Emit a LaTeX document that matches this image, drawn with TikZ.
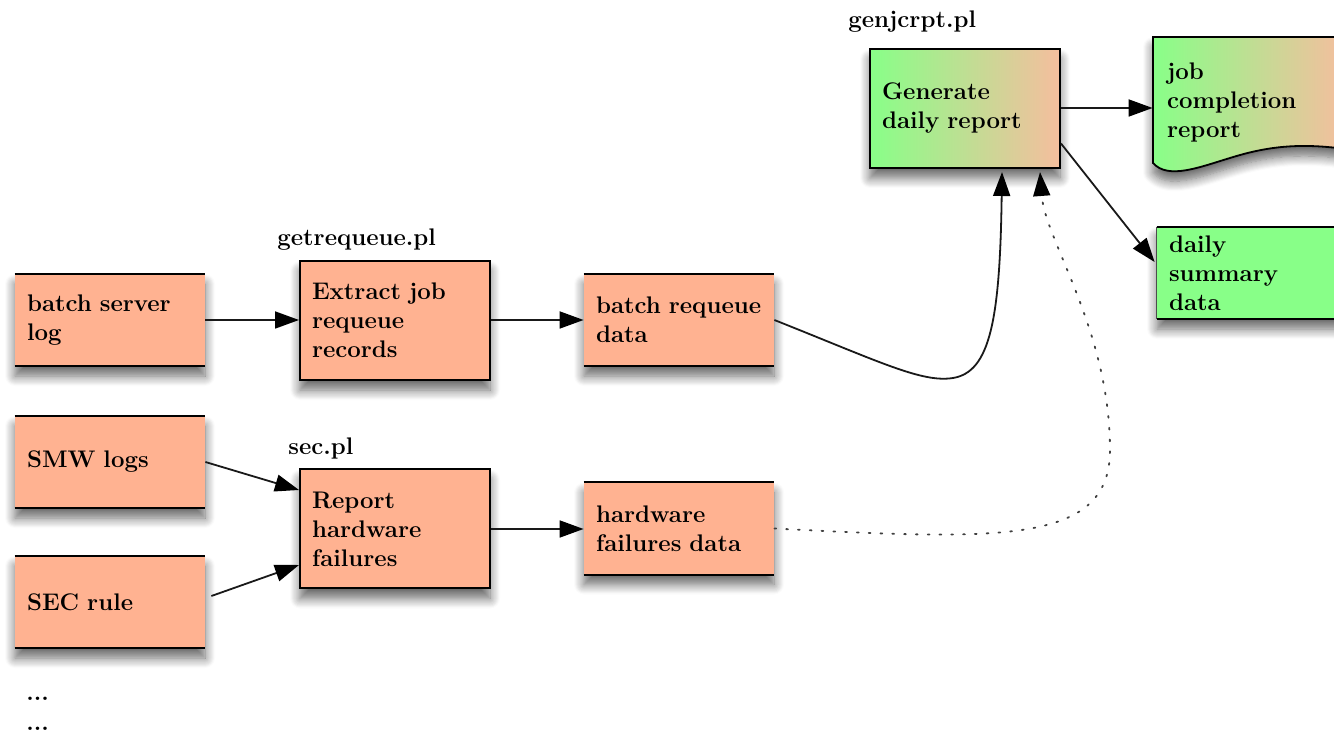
\documentclass[tikz,border=0pt]{standalone}
\usetikzlibrary{arrows.meta,shadows.blur,calc}
\definecolor{salmon}{RGB}{255,178,145}
\definecolor{greenf}{RGB}{136,255,136}
\definecolor{peach}{RGB}{245,190,158}
\tikzset{
  txt/.style={font=\fontsize{12}{14.5}\selectfont\bfseries},
  shad/.style={blur shadow={shadow xshift=0pt, shadow yshift=-5pt, shadow blur radius=5pt, shadow blur steps=10, shadow opacity=60}},
  box/.style={txt, rectangle, minimum width=95pt, minimum height=46pt, text width=83pt,
    inner xsep=6pt, align=left, fill=salmon, shad},
  procbox/.style={box, draw=black, line width=1pt, minimum height=59.5pt},
  storebox/.style={box},
  storeline/.style={line width=1pt, draw=black},
  conn/.style={line width=0.9pt, draw=black!90, -{Triangle[length=12pt,width=8.5pt,color=black]}},
  dotconn/.style={conn, draw=black!75, line width=0.9pt, dash pattern=on 0.9pt off 5pt, line cap=round},
  scriptlabel/.style={txt, anchor=base west, inner sep=0pt},
}
\begin{document}
\begin{tikzpicture}[x=0.5pt, y=-0.5pt]
\useasboundingbox (0,0) rectangle (1334,732);
\clip (0,0) rectangle (1334,732);

% data stores
\node[storebox] (bsl) at (110,320) {batch server\\log};
\node[storebox] (brd) at (679,320) {batch requeue\\data};
\node[storebox] (smw) at (110,462) {SMW logs};
\node[storebox] (sec) at (110,602) {SEC rule};
\node[storebox] (hfd) at (679,528.5) {hardware\\failures data};
\node[storebox, fill=greenf] (dsd) at (1252,273) {daily\\summary\\data};
\foreach \n in {bsl,brd,smw,sec,hfd,dsd}
  \draw[storeline] (\n.north west) -- (\n.north east) (\n.south west) -- (\n.south east);
\draw[line width=0.5pt, draw=black!70] (dsd.north west) -- (dsd.south west);

% processes
\node[procbox] (ext) at (395,320.5) {Extract job\\requeue\\records};
\node[procbox] (rhf) at (395,529) {Report\\hardware\\failures};
\node[procbox, left color=greenf, right color=peach] (gen) at (965,108.5) {Generate\\daily report};

% document shape
\path[shad, left color=greenf, right color=peach, draw=black, line width=0.9pt]
  (1153,37) -- (1345,37) -- (1345,149) .. controls (1295,142) and (1262,148) .. (1230,158)
  .. controls (1200,167) and (1168,180) .. (1153,163) -- cycle;
\node[txt, text width=83pt, inner xsep=7pt, align=left, minimum width=95pt] (jcr) at (1250,103) {job\\completion\\report};

% script labels
\node[scriptlabel] (lgr) at (277,246) {getrequeue.pl};
\node[scriptlabel] (lsec) at (288,455) {sec.pl};
\node[scriptlabel] (lgen) at (848,28) {genjcrpt.pl};
\node[scriptlabel] (dots1) at (26,700) {...};
\node[scriptlabel] (dots2) at (26,730) {...};

% connectors
\draw[conn] (bsl.east) -- (ext.west |- bsl.east);
\draw[conn] (ext.east |- brd.west) -- (brd.west);
\draw[conn] (smw.east) -- ($(rhf.west)+(0,-39)$);
\draw[conn] ($(sec.east)+(6,-6)$) -- ($(rhf.west)+(0,36)$);
\draw[conn] (rhf.east) -- (hfd.west |- rhf.east);
\draw[conn] (gen.east |- jcr.west) ++(0,5) coordinate (gj) -- (gj -| jcr.west);
\draw[conn] ($(gen.east)+(0,35)$) -- ($(dsd.west)+(-2,-11)$);
\draw[conn] (brd.east) .. controls (880,362) and (922,383) .. (953,378)
  .. controls (990,372) and (1000,320) .. ($(gen.south)+(37,3)$);
\draw[dotconn] (hfd.east) .. controls (1000,540) and (1110,545) .. (1110,450)
  .. controls (1110,330) and (1045,240) .. ($(gen.south)+(75,3)$);
\end{tikzpicture}
\end{document}
